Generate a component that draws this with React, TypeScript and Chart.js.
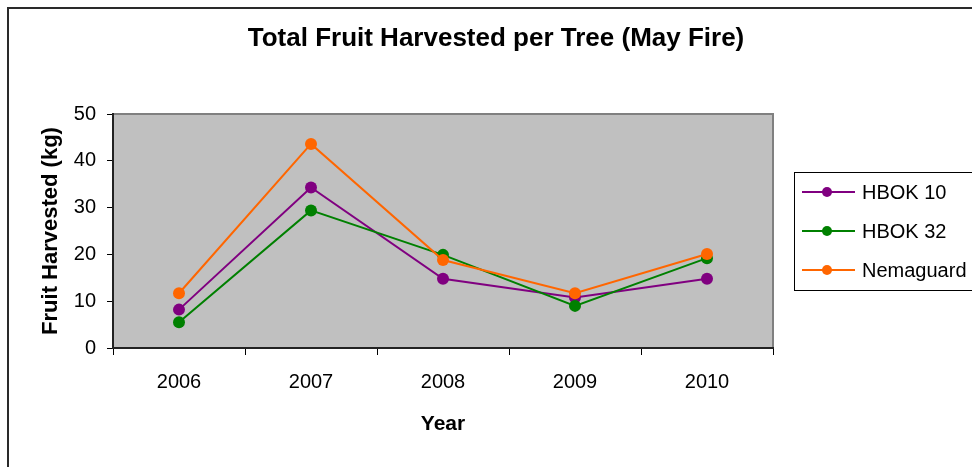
import React, { useEffect, useRef } from "react";
import { Chart, registerables, layouts } from "chart.js";

Chart.register(...registerables);

const years = ["2006", "2007", "2008", "2009", "2010"];
const hbok10 = [8.2, 34.3, 14.8, 10.8, 14.8];
const hbok32 = [5.5, 29.4, 19.9, 9.0, 19.2];
const nemaguard = [11.7, 43.6, 18.8, 11.7, 20.1];
const seriesNames = ["HBOK 10", "HBOK 32", "Nemaguard"];
const seriesColors = ["#800080", "#008000", "#FF6600"];

const FAMILY = "'Liberation Sans', Arial, sans-serif";

const bgPlugin = {
  id: "plotBg",
  beforeDraw(chart: any) {
    const { ctx, chartArea: a } = chart;
    ctx.save();
    ctx.fillStyle = "#FFFFFF";
    ctx.fillRect(0, 0, chart.width, chart.height);
    ctx.fillStyle = "#C0C0C0";
    ctx.fillRect(a.left, a.top, a.right - a.left, a.bottom - a.top);
    ctx.strokeStyle = "#808080";
    ctx.lineWidth = 2;
    ctx.beginPath();
    ctx.moveTo(a.left, a.top);
    ctx.lineTo(a.right, a.top);
    ctx.lineTo(a.right, a.bottom);
    ctx.stroke();
    ctx.restore();
  },
  afterDraw(chart: any) {
    const { ctx } = chart;
    ctx.save();
    ctx.strokeStyle = "#2a2a2a";
    ctx.lineWidth = 2;
    ctx.strokeRect(8, 8, 2000, 2000);
    ctx.restore();
  },
};

const legendBoxPlugin = {
  id: "legendBox",
  beforeInit(chart: any) {
    const box: any = {
      position: "right",
      weight: 0,
      fullSize: false,
      options: {},
      left: 0,
      top: 0,
      right: 0,
      bottom: 0,
      width: 0,
      height: 0,
      isHorizontal() {
        return false;
      },
      update(maxWidth: number, maxHeight: number) {
        this.width = 199;
        this.height = maxHeight;
      },
      draw() {
        const ctx = chart.ctx;
        const bx = 794;
        const by = 172;
        const bw = 200;
        const bh = 118;
        ctx.save();
        ctx.fillStyle = "#FFFFFF";
        ctx.fillRect(bx, by, bw, bh);
        ctx.strokeStyle = "#000000";
        ctx.lineWidth = 1;
        ctx.strokeRect(bx + 0.5, by + 0.5, bw, bh);
        const ds = chart.data.datasets;
        ctx.font = `20px ${FAMILY}`;
        ctx.textBaseline = "middle";
        ctx.textAlign = "left";
        for (let i = 0; i < ds.length; i++) {
          const y = 192 + i * 39;
          const c = ds[i].borderColor;
          ctx.strokeStyle = c;
          ctx.lineWidth = 2;
          ctx.beginPath();
          ctx.moveTo(802, y);
          ctx.lineTo(855, y);
          ctx.stroke();
          ctx.fillStyle = c;
          ctx.beginPath();
          ctx.arc(827, y, 5, 0, Math.PI * 2);
          ctx.fill();
          ctx.fillStyle = "#000000";
          ctx.fillText(ds[i].label, 862, y + 1);
        }
        ctx.restore();
      },
    };
    layouts.addBox(chart, box);
  },
};

export default function App() {
  const ref = useRef<HTMLCanvasElement | null>(null);

  useEffect(() => {
    if (!ref.current) return;
    const mk = (i: number, data: number[], order: number) => ({
      label: seriesNames[i],
      data,
      borderColor: seriesColors[i],
      backgroundColor: seriesColors[i],
      pointBackgroundColor: seriesColors[i],
      pointBorderColor: seriesColors[i],
      pointBorderWidth: 0,
      pointRadius: 6,
      borderWidth: 2,
      tension: 0,
      order,
    });
    const chart = new Chart(ref.current, {
      type: "line",
      data: {
        labels: years,
        datasets: [mk(0, hbok10, 2), mk(1, hbok32, 1), mk(2, nemaguard, 0)],
      },
      options: {
        animation: false,
        responsive: false,
        maintainAspectRatio: false,
        layout: { padding: { left: 20, right: 0, top: 0, bottom: 0 } },
        plugins: {
          legend: { display: false },
          tooltip: { enabled: false },
          title: {
            display: true,
            text: "Total Fruit Harvested per Tree (May Fire)",
            color: "#000000",
            font: { size: 26, weight: "bold", family: FAMILY },
            padding: { top: 23, bottom: 59.8 },
          },
        },
        scales: {
          x: {
            type: "category",
            offset: true,
            grid: {
              display: true,
              drawOnChartArea: false,
              drawTicks: true,
              tickLength: 7,
              color: "#000000",
              lineWidth: 1,
              offset: true,
            },
            border: { display: true, color: "#222222", width: 2 },
            ticks: {
              color: "#000000",
              font: { size: 20, family: FAMILY },
              padding: 15,
              maxRotation: 0,
            },
            title: {
              display: true,
              text: "Year",
              color: "#000000",
              font: { size: 21, weight: "bold", family: FAMILY },
              padding: { top: 0, bottom: 30 },
            },
            afterFit: (s: any) => {
              s.height = 119;
            },
          },
          y: {
            min: 0,
            max: 50,
            grid: {
              display: true,
              drawOnChartArea: false,
              drawTicks: true,
              tickLength: 6,
              color: "#000000",
              lineWidth: 1,
            },
            border: { display: true, color: "#222222", width: 2 },
            ticks: {
              stepSize: 10,
              color: "#000000",
              font: { size: 20, family: FAMILY },
              padding: 11,
            },
            title: {
              display: true,
              text: "Fruit Harvested (kg)",
              color: "#000000",
              font: { size: 22, weight: "bold", family: FAMILY },
              padding: { top: 18, bottom: 0 },
            },
            afterFit: (s: any) => {
              s.width = 93;
            },
          },
        },
      },
      plugins: [bgPlugin, legendBoxPlugin],
    } as any);
    return () => chart.destroy();
  }, []);

  return (
    <div style={{ position: "fixed", left: 0, top: 0, width: 972, height: 467, background: "#fff" }}>
      <canvas ref={ref} width={972} height={467} style={{ width: 972, height: 467, display: "block" }} />
    </div>
  );
}
